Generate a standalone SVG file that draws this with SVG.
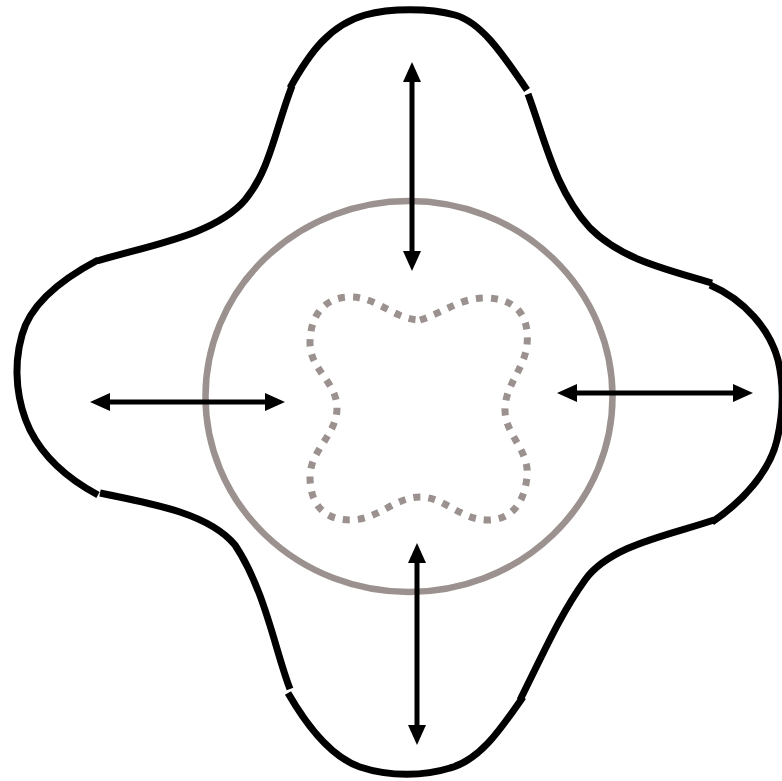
<svg xmlns="http://www.w3.org/2000/svg" width="782" height="781" viewBox="0 0 782 781">
<style>
.outer{fill:none;stroke:#000;stroke-width:7;stroke-linecap:butt}
.ring{fill:none;stroke:#9b918e;stroke-width:6.5}
.dots{fill:none;stroke:#9b918e;stroke-width:7;stroke-dasharray:7 8}
.arrow{stroke:#000;stroke-width:5;fill:none;marker-start:url(#ah);marker-end:url(#ah)}
</style>
<defs>
<marker id="ah" markerUnits="userSpaceOnUse" markerWidth="20" markerHeight="18" refX="10" refY="9" orient="auto-start-reverse">
<path d="M0,0 L20,9 L0,18 z" fill="#000"/>
</marker>
</defs>
<g id="outer-shape">
<path class="outer" d="M290,88 C310,52 330,25 365,15 C390,8 430,8 455,15 C480,22 500,50 527,90"/>
<path class="outer" d="M528,94 C545,140 555,190 590,228 C620,258 660,268 712,283"/>
<path class="outer" d="M710,285 C745,300 770,330 778,360 C784,385 784,410 777,440 C770,470 745,500 712,522"/>
<path class="outer" d="M714,520 C670,535 610,545 585,580 C560,615 545,650 520,700"/>
<path class="outer" d="M523,697 C500,730 480,760 450,768 C425,776 390,777 360,767 C340,760 315,740 288,693"/>
<path class="outer" d="M290,689 C275,650 265,590 235,545 C210,515 160,505 100,493"/>
<path class="outer" d="M98,495 C70,480 45,460 30,430 C18,405 12,370 22,335 C30,305 60,280 98,260"/>
<path class="outer" d="M97,261 C150,245 215,235 245,200 C270,170 275,130 292,86"/>
</g>
<g id="circle">
<ellipse class="ring" cx="409" cy="396.5" rx="203.5" ry="195.5"/>
</g>
<g id="inner-shape">
<path class="dots" d="M420,320 C445,312 460,298 485,298 C515,298 530,315 527,345 C524,370 505,385 505,410 C505,435 530,450 527,477 C524,505 510,520 488,520 C460,520 445,497 420,497 C395,497 378,520 350,520 C325,520 310,505 310,477 C310,450 337,435 337,408 C337,382 310,370 310,343 C310,315 325,297 350,297 C378,297 395,320 420,320 Z"/>
</g>
<g id="connectors">
<line class="arrow" x1="412" y1="72" x2="412" y2="261"/>
<line class="arrow" x1="100" y1="402" x2="275" y2="402"/>
<line class="arrow" x1="567" y1="393" x2="743" y2="393"/>
<line class="arrow" x1="417" y1="553" x2="417" y2="735"/>
</g>
</svg>
